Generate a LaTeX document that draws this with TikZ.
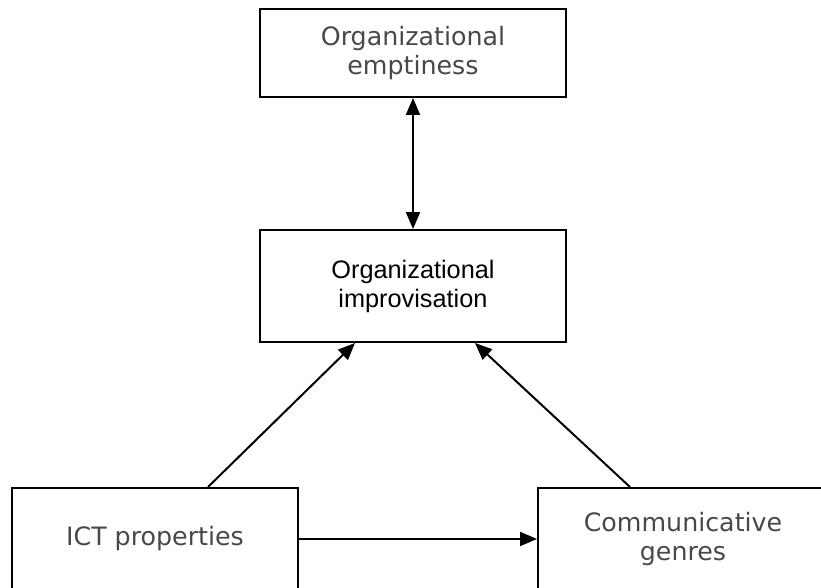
\documentclass[tikz,border=0pt]{standalone}
\usepackage{fontspec}
\setmainfont{DejaVu Sans}
\newfontfamily\helv{Liberation Sans}
\usetikzlibrary{arrows.meta}
\definecolor{txtgray}{RGB}{72,72,72}
\begin{document}
\begin{tikzpicture}[x=1pt,y=-1pt,
  box/.style={draw=black,line width=2pt,rectangle,align=center,inner sep=0pt},
  graytxt/.style={text=txtgray,font=\fontsize{25.3}{29}\selectfont},
  blacktxt/.style={text=black,font=\helv\fontsize{25.3}{29}\selectfont},
  conn/.style={line width=2pt,-{Triangle[length=17pt,width=14pt]}},
  dconn/.style={line width=2pt,{Triangle[length=17pt,width=14pt]}-{Triangle[length=17pt,width=14pt]}}]
\useasboundingbox (0,0) rectangle (821,588);
\node[box,graytxt,minimum width=306pt,minimum height=88pt] (top) at (413,53) {Organizational\\emptiness};
\node[box,blacktxt,minimum width=306pt,minimum height=112pt] (mid) at (413,286) {Organizational\\improvisation};
\node[box,graytxt,minimum width=286pt,minimum height=102pt] (ict) at (155,539) {ICT properties};
\node[box,graytxt,minimum width=290pt,minimum height=102pt] (gen) at (683,539) {Communicative\\genres};
\draw[dconn] (top.south) -- (mid.north);
\draw[conn] ([xshift=53pt]ict.north) -- ([xshift=-58pt]mid.south);
\draw[conn] ([xshift=-53pt]gen.north) -- ([xshift=62pt]mid.south);
\draw[conn] (ict.east) -- (gen.west);
\end{tikzpicture}
\end{document}
